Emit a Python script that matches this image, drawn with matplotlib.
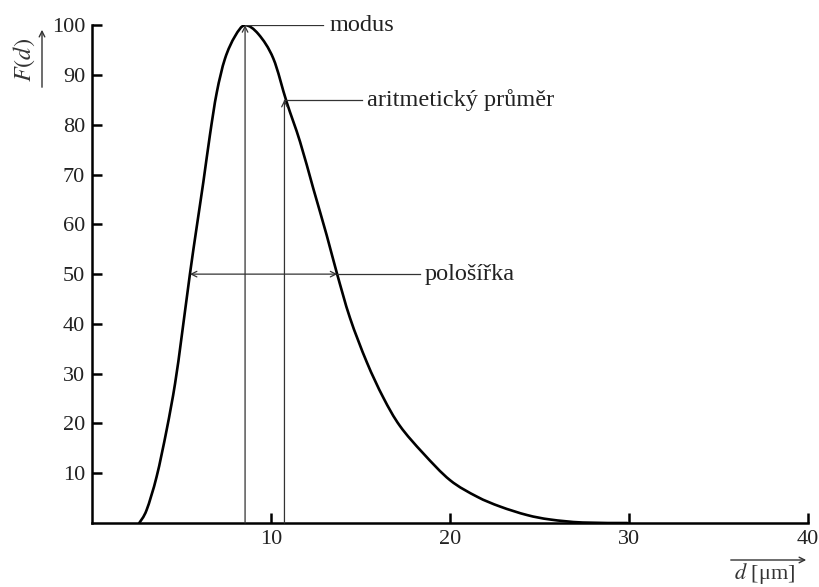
import matplotlib.pyplot as plt
from matplotlib.path import Path
from matplotlib.patches import PathPatch, FancyArrowPatch

plt.rcParams['font.family'] = ['Liberation Serif', 'DejaVu Serif']
plt.rcParams['mathtext.fontset'] = 'stix'

# curve
d = [2.64, 3.05, 3.61, 4.17, 4.64, 5.01, 5.47, 5.85, 6.22, 6.59, 6.97, 7.43,
     7.99, 8.55, 9.3, 10.13, 10.87, 11.62, 12.36, 13.11, 13.67, 14.41, 15.35,
     16.27, 17.2, 18.5, 20.0, 21.5, 22.8, 24.3, 25.6, 27.4, 29.9]
F = [0, 2.6, 9.3, 18.7, 28, 37.5, 50, 59.5, 68.5, 78, 86.5, 93.3,
     97.8, 100, 98.2, 93.3, 84.6, 76.6, 67.2, 57.8, 50.3, 41.2, 32.3,
     25.2, 19.5, 14, 8.6, 5.3, 3.3, 1.6, 0.7, 0.1, 0]

modus_d, modus_F = 8.55, 100
mean_d, mean_F = 10.75, 85
half_left, half_right, half_F = 5.47, 13.7, 50


def smooth_path(xs, ys):
    # Catmull-Rom through the read points, drawn as cubic Bezier segments
    pts = list(zip(xs, ys))
    verts = [pts[0]]
    codes = [Path.MOVETO]
    for i in range(len(pts) - 1):
        p0 = pts[i - 1] if i > 0 else pts[i]
        p1 = pts[i]
        p2 = pts[i + 1]
        p3 = pts[i + 2] if i + 2 < len(pts) else pts[i + 1]
        c1 = (p1[0] + (p2[0] - p0[0]) / 6, p1[1] + (p2[1] - p0[1]) / 6)
        c2 = (p2[0] - (p3[0] - p1[0]) / 6, p2[1] - (p3[1] - p1[1]) / 6)
        verts += [c1, c2, p2]
        codes += [Path.CURVE4] * 3
    return Path(verts, codes)


fig = plt.figure(figsize=(8.19, 5.87), dpi=100)
ax = fig.add_axes([0.1123, 0.109, 0.8745, 0.848])

ax.add_patch(PathPatch(smooth_path(d, F), facecolor='none', edgecolor='black',
                       lw=1.9, capstyle='round'))

thin = dict(color='#333333', lw=0.9)
arr = dict(arrowstyle='->', color='#333333', lw=0.9, shrinkA=0, shrinkB=0,
           mutation_scale=10)
fs = 17.5

# modus
ax.annotate('', xy=(modus_d, modus_F), xytext=(modus_d, 0), arrowprops=arr)
ax.plot([modus_d, 12.9], [modus_F, modus_F], **thin)
ax.text(13.25, modus_F, 'modus', fontsize=fs, va='center', ha='left', color='#222222')

# arithmetic mean
ax.annotate('', xy=(mean_d, mean_F), xytext=(mean_d, 0), arrowprops=arr)
ax.plot([mean_d, 15.1], [mean_F, mean_F], **thin)
ax.text(15.35, mean_F, 'aritmetický průměr', fontsize=fs, va='center', ha='left',
        color='#222222')

# half width
arr2 = dict(arr)
arr2['arrowstyle'] = '<->'
ax.annotate('', xy=(half_right, half_F), xytext=(half_left, half_F), arrowprops=arr2)
ax.plot([half_right, 18.3], [half_F, half_F], **thin)
ax.text(18.6, half_F, 'pološířka', fontsize=fs, va='center', ha='left', color='#222222')

ax.set_xlim(0, 40)
ax.set_ylim(0, 100)
ax.set_xticks([10, 20, 30, 40])
ax.set_yticks(range(10, 101, 10))
ax.tick_params(direction='in', length=7, width=1.8, labelsize=16, pad=5,
               labelcolor='#222222')
ax.spines['top'].set_visible(False)
ax.spines['right'].set_visible(False)
ax.spines['left'].set_linewidth(1.8)
ax.spines['bottom'].set_linewidth(1.8)

# axis labels with arrows
fig.text(24 / 819, 1 - 60 / 587, '$F(d)$', rotation=90, fontsize=17.5,
         ha='center', va='center', color='#333333')
fig.add_artist(FancyArrowPatch(
    (42 / 819, 1 - 90 / 587), (42 / 819, 1 - 27 / 587),
    transform=fig.transFigure, arrowstyle='->', mutation_scale=10,
    color='#333333', lw=1.0))
fig.text(765 / 819, 1 - 573 / 587, r'$d$ [μm]', fontsize=16,
         ha='center', va='center', color='#333333')
fig.add_artist(FancyArrowPatch(
    (728 / 819, 1 - 560 / 587), (809 / 819, 1 - 560 / 587),
    transform=fig.transFigure, arrowstyle='->', mutation_scale=10,
    color='#333333', lw=1.0))

fig.savefig('out.png', dpi=100)
